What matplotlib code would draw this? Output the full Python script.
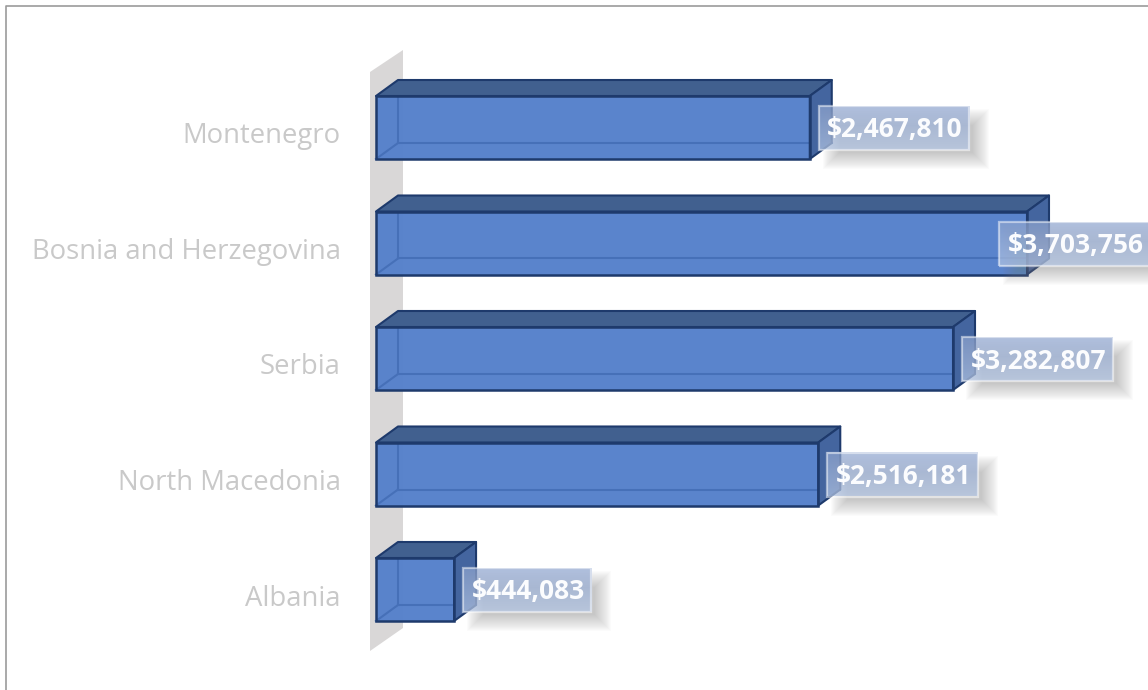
import numpy as np
import matplotlib
matplotlib.use('Agg')
import matplotlib.pyplot as plt
from matplotlib.patches import Polygon, Rectangle

countries = ['Albania', 'North Macedonia', 'Serbia', 'Bosnia and Herzegovina', 'Montenegro']
values = [444083, 2516181, 3282807, 3703756, 2467810]

W, H = 1148, 690
plt.rcParams['font.family'] = ['Open Sans', 'DejaVu Sans']

fig = plt.figure(figsize=(W / 100, H / 100), dpi=100)
ax = fig.add_axes([0, 0, 1, 1])
ax.axis('off')

# scale of both axes, the bars start 376 px in and rows are 115.5 px apart
px_per_x = 651 / 3703756
px_per_y = 115.5
x0_px, y0_px = 376, 589.5
xlim = (-x0_px / px_per_x, (W - x0_px) / px_per_x)
ylim = ((y0_px - H) / px_per_y, y0_px / px_per_y)


def dx(px):
    return px / px_per_x


def dy(px):
    return px / px_per_y


depth_x, depth_y = dx(22), dy(16)
half = dy(31.5)

front_col = '#5580cb'
top_col = '#41608f'
side_col = '#44659f'
edge_col = '#1e3a6c'
inner_col = '#4670b8'

# back wall behind the bars
wall_x0, wall_x1 = -dx(6), dx(27)
ax.add_patch(Polygon([(wall_x0, dy(y0_px - 72)), (wall_x1, dy(y0_px - 50)),
                      (wall_x1, dy(y0_px - 628)), (wall_x0, dy(y0_px - 651))],
                     closed=True, fc='#d9d7d7', ec='none', zorder=1))

for i, v in enumerate(values):
    b, t = i - half, i + half
    # front face first, then the see-through lines of the far edges
    ax.add_patch(Rectangle((0, b), v, t - b, fc=front_col, ec='none', alpha=0.97, zorder=2))
    ax.plot([depth_x, depth_x], [t, b + depth_y], color=inner_col, lw=1.5, zorder=3)
    ax.plot([depth_x, v + depth_x], [b + depth_y, b + depth_y], color=inner_col, lw=1.5, zorder=3)
    ax.plot([0, depth_x], [b, b + depth_y], color=inner_col, lw=1.5, zorder=3)
    ax.add_patch(Polygon([(0, t), (depth_x, t + depth_y), (v + depth_x, t + depth_y), (v, t)],
                         closed=True, fc=top_col, ec=edge_col, lw=1.5, zorder=4, joinstyle='round'))
    ax.add_patch(Polygon([(v, b), (v, t), (v + depth_x, t + depth_y), (v + depth_x, b + depth_y)],
                         closed=True, fc=side_col, ec=edge_col, lw=1.5, zorder=4, joinstyle='round'))
    ax.add_patch(Rectangle((0, b), v, t - b, fc='none', ec=edge_col, lw=1.8, zorder=5))
    ax.text(dx(340.5 - x0_px), i - dy(9), countries[i], ha='right', va='center',
            fontsize=19.8, color='#c9c9c9', zorder=6)

# value labels with a soft drop shadow, pushed back in where they would leave the figure
renderer = fig.canvas.get_renderer()
ax.set_xlim(xlim)
ax.set_ylim(ylim)
box_h = dy(44)
gradient = np.zeros((64, 2, 4))
top_rgb = np.array([178, 197, 228]) / 255
bottom_rgb = np.array([142, 164, 206]) / 255
mix = np.linspace(0, 1, 64)[:, None, None]
gradient[..., :3] = bottom_rgb * (1 - mix) + top_rgb * mix
gradient[..., 3] = 0.72

for i, v in enumerate(values):
    label = ax.text(0, i, f'${v:,}', ha='left', va='center', fontsize=19,
                    fontweight='bold', color='#fbfcfe', zorder=12)
    width = label.get_window_extent(renderer).width + 15
    left_px = min(x0_px + v * px_per_x + 9, 1150 - width)
    left = dx(left_px - x0_px)
    bottom = i - box_h / 2 - dy(0.5)
    label.set_position((left + dx(8.5), i - dy(2.5)))

    for grow in range(-8, 9):
        ax.add_patch(Rectangle((left + dx(12 - grow), bottom - dy(11 + grow)),
                               dx(width + 2 * grow), box_h + dy(2 * grow),
                               fc='#808080', ec='none', alpha=0.027, zorder=8))
    ax.imshow(gradient, extent=(left, left + dx(width), bottom, bottom + box_h),
              aspect='auto', zorder=9, interpolation='bilinear')
    ax.add_patch(Rectangle((left, bottom), dx(width), box_h, fc='none',
                           ec=(1, 1, 1, 0.5), lw=1.6, zorder=10))

ax.set_xlim(xlim)
ax.set_ylim(ylim)

# thin frame around the chart area, open at the right and bottom
ax.plot([dx(5.5 - x0_px)] * 2 + [xlim[1]],
        [ylim[0], dy(y0_px - 5.5), dy(y0_px - 5.5)],
        color='#9b9b9b', lw=1.2, zorder=20, clip_on=False)

fig.savefig('out.png', dpi=100, facecolor='white')
